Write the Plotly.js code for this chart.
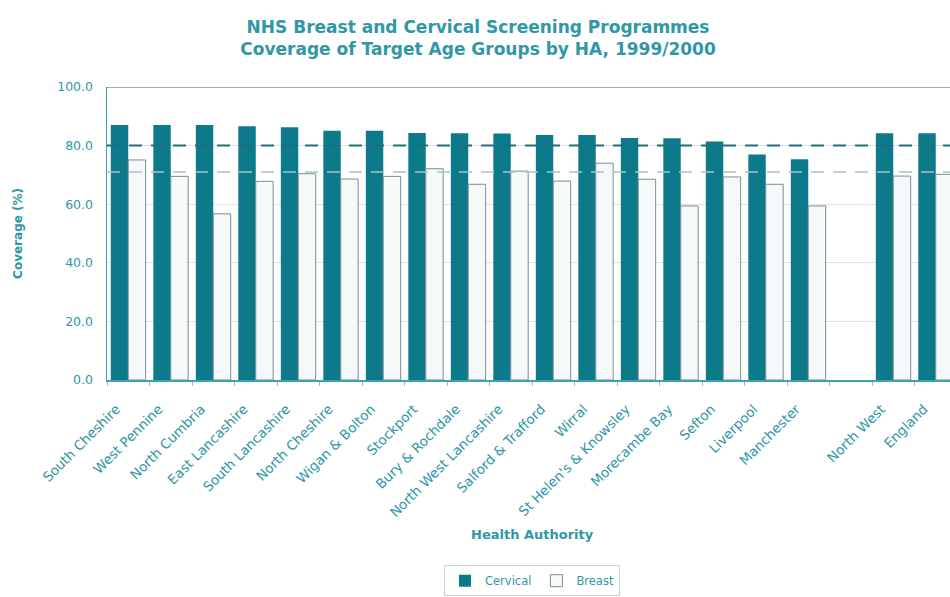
<!DOCTYPE html>
<html>
<head>
<meta charset="utf-8">
<script src="https://cdn.plot.ly/plotly-3.0.1.min.js"></script>
<style>
html,body{margin:0;padding:0;overflow:hidden;background:#fff;}
#chart{width:958px;height:597px;}
</style>
</head>
<body>
<div id="chart"></div>
<script>
const categories = ["South Cheshire","West Pennine","North Cumbria","East Lancashire","South Lancashire","North Cheshire","Wigan & Bolton","Stockport","Bury & Rochdale","North West Lancashire","Salford & Trafford","Wirral","St Helen's & Knowsley","Morecambe Bay","Sefton","Liverpool","Manchester"," ","North West","England"];
const cervical = [87.0,87.0,87.0,86.6,86.3,85.1,85.1,84.3,84.2,84.1,83.6,83.6,82.6,82.5,81.4,77.0,75.3,null,84.2,84.2];
const breast   = [75.1,69.5,56.7,67.8,70.4,68.6,69.5,72.1,66.8,71.3,67.9,74.0,68.5,59.4,69.3,66.8,59.4,null,69.6,70.2];
const cervicalTarget = 80;
const breastTarget = 71;
const yTicks = [0,20,40,60,80,100];

const teal = '#0c7a8a';
const txt = '#2f97a6';
const font = 'DejaVu Sans, Verdana, sans-serif';

const traces = [
  {type:'bar', name:'Cervical', x:categories, y:cervical,
   marker:{color:teal, line:{color:teal, width:0}}},
  {type:'bar', name:'Breast', x:categories, y:breast,
   marker:{color:'#f6f9fa', line:{color:'#7d8c90', width:1}}}
];

const layout = {
  width:958, height:597,
  paper_bgcolor:'#fff', plot_bgcolor:'#fff',
  margin:{l:107, r:1, t:87, b:217},
  barmode:'group', bargap:0.18, bargroupgap:0,
  font:{family:font, color:txt},
  title:{text:'<b>NHS Breast and Cervical Screening Programmes<br>Coverage of Target Age Groups by HA, 1999/2000</b>',
         font:{family:font, size:17, color:txt}, x:0.499, xanchor:'center', y:0.945, yanchor:'top'},
  xaxis:{type:'category', range:[-0.5,19.5], showline:true, linecolor:'#3aa3b3', linewidth:2,
         mirror:false, ticks:'outside', tickson:'boundaries', ticklen:4, tickcolor:'#9fb8bd',
         tickangle:-45, tickfont:{family:font, size:13.5, color:txt}, ticklabelstandoff:14, ticklabelshift:-12,
         showgrid:false, automargin:false, fixedrange:true},
  yaxis:{range:[0,100], tickvals:yTicks, tickformat:'.1f', showline:true, linecolor:'#3aa3b3', linewidth:1.5,
         gridcolor:'#dde2e3', gridwidth:1, zeroline:false, ticks:'', ticklabelstandoff:10,
         tickfont:{family:font, size:12.5, color:txt}, automargin:false, fixedrange:true},
  shapes:[
    {type:'line', xref:'paper', yref:'y', x0:0, x1:1, y0:100, y1:100, line:{color:'#93b3ba', width:2}},
    {type:'line', xref:'paper', yref:'y', x0:0, x1:1, y0:cervicalTarget, y1:cervicalTarget, layer:'above',
     line:{color:'#1d6f7b', width:2, dash:'13px,9px'}},
    {type:'line', xref:'paper', yref:'y', x0:0, x1:1, y0:breastTarget, y1:breastTarget, layer:'above',
     line:{color:'#a9c4c9', width:1.5, dash:'13px,9px'}}
  ],
  annotations:[
    {text:'<b>Coverage (%)</b>', xref:'paper', yref:'paper', x:-0.116, y:0.5, textangle:-90,
     showarrow:false, font:{family:font, size:12, color:txt}},
    {text:'<b>Health Authority</b>', xref:'paper', yref:'paper', x:0.5, y:-0.529, yanchor:'middle',
     showarrow:false, font:{family:font, size:13, color:txt}}
  ],
  legend:{orientation:'h', x:0.5, xanchor:'center', y:-0.632, yanchor:'top',
          bordercolor:'#c9d3d5', borderwidth:1, font:{family:font, size:11.5, color:txt},
          itemwidth:30, tracegroupgap:0},
  showlegend:true
};

Plotly.newPlot('chart', traces, layout, {displayModeBar:false, staticPlot:true});
</script>
</body>
</html>
